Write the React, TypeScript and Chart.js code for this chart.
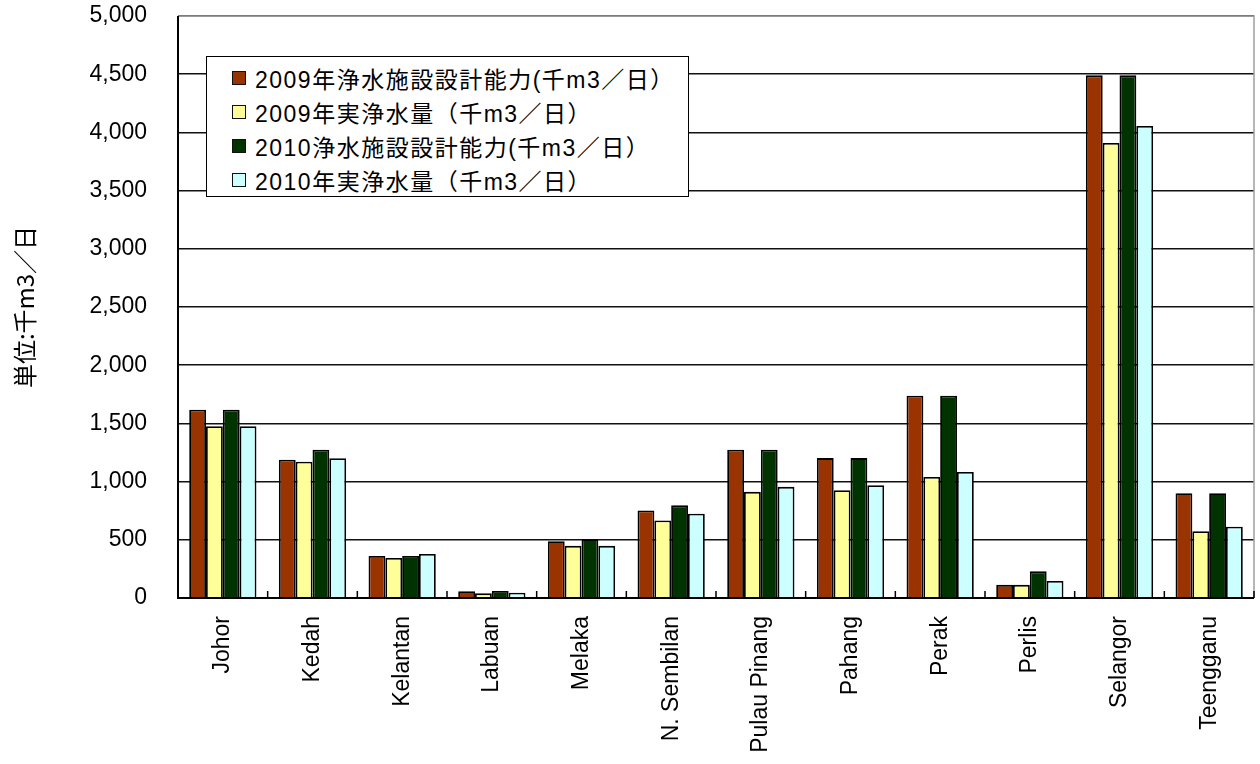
import React, { useEffect, useRef } from "react";
import { Chart, registerables } from "chart.js";

Chart.register(...registerables);

const categories = ["Johor", "Kedah", "Kelantan", "Labuan", "Melaka", "N. Sembilan", "Pulau Pinang", "Pahang", "Perak", "Perlis", "Selangor", "Teengganu"];
const cap2009 = [1618, 1188, 361, 58, 488, 752, 1274, 1202, 1738, 113, 4490, 900];
const act2009 = [1475, 1170, 344, 40, 448, 666, 912, 926, 1039, 113, 3910, 574];
const cap2010 = [1618, 1274, 361, 60, 505, 796, 1274, 1202, 1738, 229, 4490, 900];
const act2010 = [1475, 1200, 378, 46, 448, 724, 955, 969, 1082, 146, 4055, 612];
const seriesLabels = [
  "2009年浄水施設設計能力(千m3／日）",
  "2009年実浄水量（千m3／日）",
  "2010浄水施設設計能力(千m3／日）",
  "2010年実浄水量（千m3／日）",
];
const seriesColors = ["#993300", "#FFFF99", "#003300", "#CCFFFF"];
const yTitle = "単位:千m3／日";

const LATIN = "'Liberation Sans', Arial, sans-serif";
const CJK = "'Liberation Sans', 'Noto Sans CJK JP', sans-serif";
const CJK2 = "'Noto Sans CJK JP', sans-serif";

const framePlugin = {
  id: "frame",
  afterDatasetsDraw(chart: any) {
    const { ctx, chartArea, scales } = chart;
    const x = scales.x;
    ctx.save();
    ctx.strokeStyle = "#a0a0a0";
    ctx.lineWidth = 1.5;
    ctx.beginPath();
    ctx.moveTo(chartArea.left, chartArea.top);
    ctx.lineTo(chartArea.right, chartArea.top);
    ctx.lineTo(chartArea.right, chartArea.bottom);
    ctx.stroke();
    ctx.strokeStyle = "#000";
    ctx.lineWidth = 2;
    ctx.beginPath();
    ctx.moveTo(chartArea.left, chartArea.top);
    ctx.lineTo(chartArea.left, chartArea.bottom);
    ctx.lineTo(chartArea.right, chartArea.bottom);
    ctx.stroke();
    ctx.lineWidth = 1.5;
    ctx.beginPath();
    for (let i = 0; i < categories.length; i++) {
      const px = i < categories.length - 1
        ? (x.getPixelForValue(i) + x.getPixelForValue(i + 1)) / 2
        : chartArea.right;
      ctx.moveTo(px, chartArea.bottom);
      ctx.lineTo(px, chartArea.bottom - 7);
    }
    ctx.stroke();
    ctx.restore();
  },
};

export default function App() {
  const ref = useRef<HTMLCanvasElement>(null);
  useEffect(() => {
    document.body.style.margin = "0";
    const data = [cap2009, act2009, cap2010, act2010];
    const chart = new Chart(ref.current!, {
      type: "bar",
      data: {
        labels: categories,
        datasets: data.map((d, i) => ({
          label: seriesLabels[i],
          data: d,
          backgroundColor: seriesColors[i],
          borderColor: "#000",
          borderWidth: 1.8,
          borderSkipped: "bottom",
          categoryPercentage: 0.75,
          barPercentage: 1,
        })),
      },
      options: {
        animation: false,
        responsive: false,
        maintainAspectRatio: false,
        layout: { padding: { top: 16, right: 6, left: 0, bottom: 0 } },
        plugins: { legend: { display: false }, tooltip: { enabled: false } },
        scales: {
          x: {
            grid: { display: false, drawTicks: false },
            border: { display: false },
            ticks: {
              minRotation: 90,
              maxRotation: 90,
              autoSkip: false,
              padding: 18,
              color: "#000",
              font: { family: LATIN, size: 23 },
            },
            afterFit(scale: any) {
              scale.height = 166;
              scale.paddingLeft = 0;
              scale.paddingRight = 0;
            },
          },
          y: {
            min: 0,
            max: 5000,
            grid: { color: "#111", lineWidth: 1.5, drawTicks: false },
            border: { display: false },
            ticks: {
              stepSize: 500,
              padding: 31,
              color: "#000",
              font: { family: LATIN, size: 23 },
              callback: (v: any) => Number(v).toLocaleString("en-US"),
            },
            title: {
              display: true,
              text: yTitle,
              color: "#000",
              font: { family: CJK2, size: 24 },
              padding: { top: 10, bottom: 0 },
            },
            afterFit(scale: any) {
              scale.width = 178;
              scale.paddingTop = 0;
              scale.paddingBottom = 0;
            },
          },
        },
      },
      plugins: [framePlugin],
    });
    return () => chart.destroy();
  }, []);

  return (
    <div style={{ position: "relative", width: 1260, height: 764, background: "#fff" }}>
      <canvas ref={ref} width={1260} height={764} style={{ display: "block", width: 1260, height: 764 }} />
      <div
        style={{
          position: "absolute",
          left: 206,
          top: 56,
          width: 483,
          height: 141,
          border: "1.5px solid #000",
          background: "#fff",
          boxSizing: "border-box",
          paddingTop: 4,
          paddingLeft: 25,
          fontFamily: CJK,
          fontSize: 23,
          letterSpacing: 1.5,
          color: "#000",
        }}
      >
        {seriesLabels.map((l, i) => (
          <div key={i} style={{ height: 34, display: "flex", alignItems: "center", whiteSpace: "nowrap" }}>
            <span
              style={{
                display: "inline-block",
                width: 14,
                height: 14,
                background: seriesColors[i],
                border: "1px solid #111",
                boxSizing: "border-box",
                marginRight: 9,
              }}
            />
            <span>{l}</span>
          </div>
        ))}
      </div>
    </div>
  );
}
